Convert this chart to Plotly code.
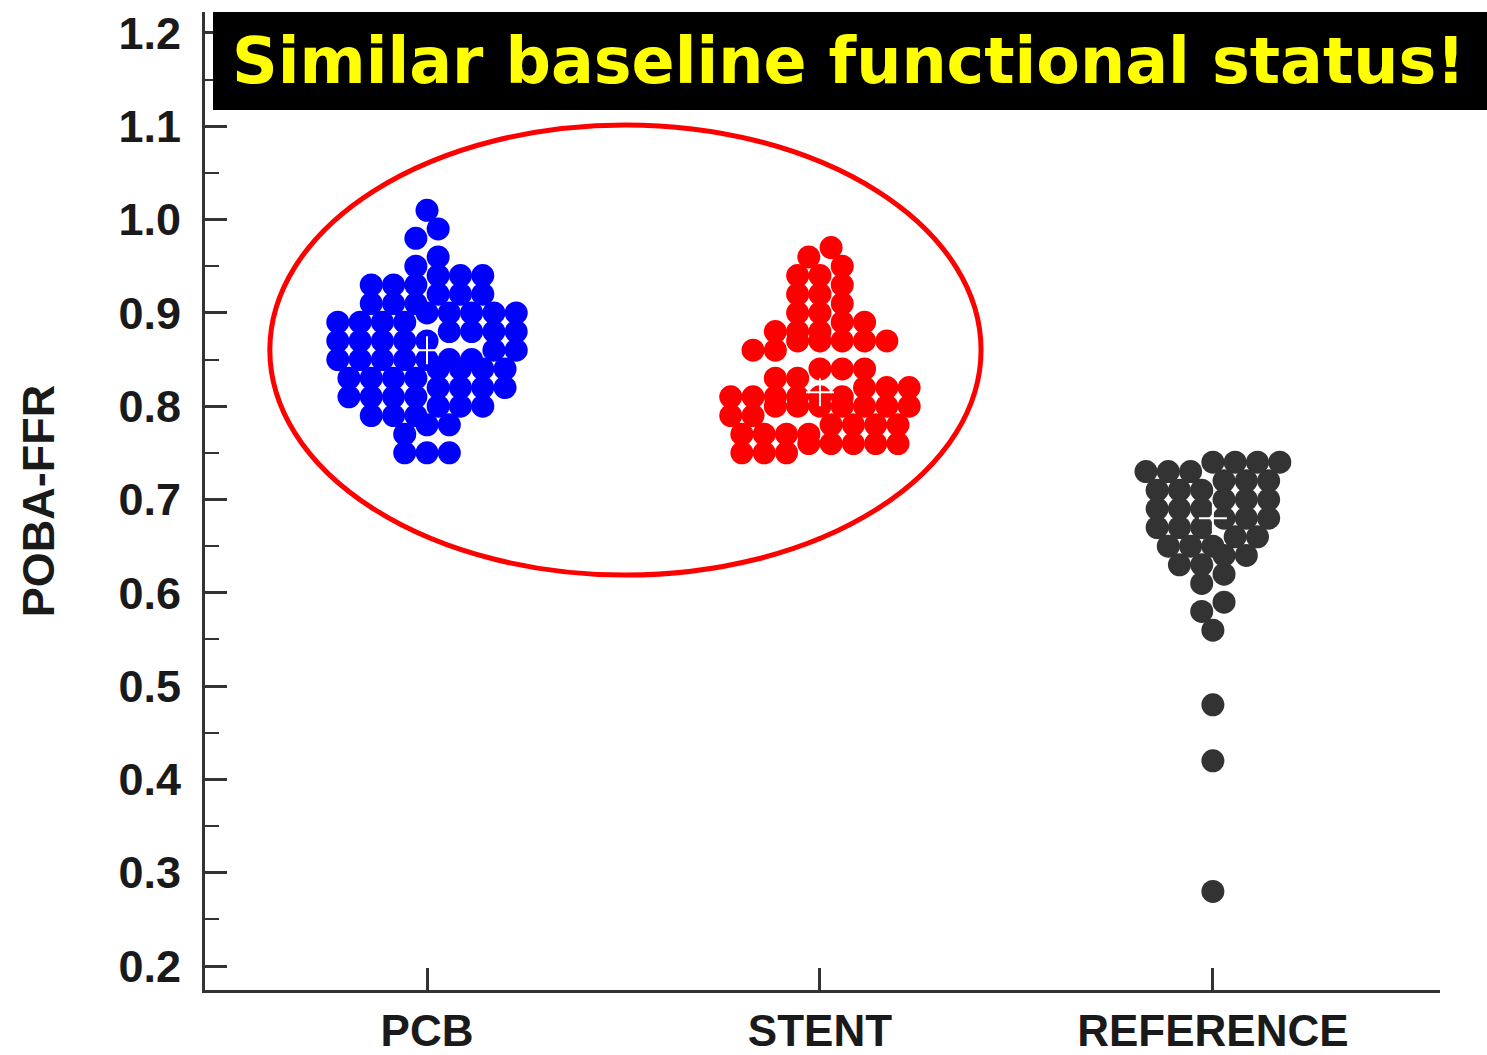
import numpy as np
import plotly.graph_objects as go

# ---------------- data ----------------
categories = ["PCB", "STENT", "REFERENCE"]

pcb_ffr = [0.75, 0.77, 0.78, 0.79, 0.80, 0.81, 0.82, 0.83, 0.84, 0.85, 0.86, 0.87, 0.88,
           0.89, 0.90, 0.91, 0.92, 0.93, 0.94, 0.95, 0.96, 0.98, 0.99, 1.01]
pcb_n = [3, 1, 2, 3, 3, 4, 4, 4, 4, 7, 2, 5, 4,
         4, 5, 3, 3, 3, 3, 1, 1, 1, 1, 1]

stent_ffr = [0.75, 0.76, 0.77, 0.78, 0.79, 0.80, 0.81, 0.82, 0.83, 0.84, 0.86, 0.87,
             0.88, 0.89, 0.90, 0.91, 0.92, 0.93, 0.94, 0.95, 0.96, 0.97]
stent_n = [3, 5, 4, 4, 2, 7, 6, 3, 2, 3, 2, 5,
           3, 2, 2, 1, 2, 1, 2, 1, 1, 1]

ref_ffr = [0.28, 0.42, 0.48, 0.56, 0.58, 0.59, 0.61, 0.62, 0.63, 0.64, 0.65, 0.66,
           0.67, 0.68, 0.69, 0.70, 0.71, 0.72, 0.73, 0.74]
ref_n = [1, 1, 1, 1, 1, 1, 1, 1, 2, 2, 3, 2,
         3, 3, 3, 3, 3, 3, 3, 4]

y_ticks = [0.2, 0.3, 0.4, 0.5, 0.6, 0.7, 0.8, 0.9, 1.0, 1.1, 1.2]
y_title = "POBA-FFR"
headline = "Similar baseline functional status!"

# ---------------- styling / geometry ----------------
W, H = 1487, 1055
ML, MR, MT, MB = 205, 47, 12, 65
XMIN, XMAX = -0.565, 2.578
YMIN, YMAX = 0.1743, 1.2225
DOT_PX = 23
STEP_PX = 22.3
BIN_W = 0.02
colors = ["#0000FF", "#FF0000", "#333333"]
AXIS_COL = "#333333"
TXT_COL = "#1a1a1a"
FONT = "Liberation Sans, Arial, sans-serif"

plot_w = W - ML - MR
plot_h = H - MT - MB
px_per_unit = plot_w / (XMAX - XMIN)
dx = STEP_PX / px_per_unit


def dot_layout(vals):
    v = np.sort(np.asarray(vals, dtype=float))
    off = np.empty_like(v)
    i = 0
    while i < len(v):
        j = i
        while j < len(v) and v[j] < v[i] + BIN_W - 1e-9:
            j += 1
        n = j - i
        off[i:j] = np.arange(n) - (n - 1) / 2.0
        i = j
    return v, off * dx


groups = [
    np.repeat(pcb_ffr, pcb_n),
    np.repeat(stent_ffr, stent_n),
    np.repeat(ref_ffr, ref_n),
]

fig = go.Figure()
for k, vals in enumerate(groups):
    yv, xo = dot_layout(vals)
    fig.add_trace(go.Scatter(
        x=k + xo, y=yv, mode="markers",
        marker=dict(size=DOT_PX, color=colors[k], line=dict(width=0)),
        showlegend=False, hoverinfo="y",
    ))

# median markers
fig.add_trace(go.Scatter(
    x=list(range(len(groups))), y=[float(np.median(g)) for g in groups],
    mode="markers",
    marker=dict(symbol="cross-thin", size=20, line=dict(color="white", width=2)),
    showlegend=False, hoverinfo="skip",
))

# red ellipse around PCB and STENT groups
both = np.concatenate([groups[0], groups[1]])
fig.add_shape(type="circle", xref="x", yref="y",
              x0=0 - 0.40, x1=1 + 0.41,
              y0=both.min() - 0.131, y1=both.max() + 0.0915,
              line=dict(color="#FF0000", width=5), layer="above")

# headline box
fig.add_shape(type="rect", xref="paper", yref="paper",
              x0=(213 - ML) / plot_w, x1=(W - ML) / plot_w,
              y0=(H - MB - 110) / plot_h, y1=(H - MB - 12) / plot_h,
              fillcolor="black", line=dict(width=0), layer="above")
fig.add_annotation(xref="paper", yref="paper",
                   x=(848 - ML) / plot_w, y=(H - MB - 61) / plot_h,
                   xanchor="center", yanchor="middle", showarrow=False,
                   text=headline,
                   font=dict(family="DejaVu Sans, Verdana, sans-serif", size=63.5,
                             color="#FFFF00", weight="bold"))

fig.update_layout(
    width=W, height=H,
    margin=dict(l=ML, r=MR, t=MT, b=MB, autoexpand=False),
    paper_bgcolor="white", plot_bgcolor="white",
    xaxis=dict(
        range=[XMIN, XMAX], showgrid=False, zeroline=False, automargin=False,
        showline=True, linecolor=AXIS_COL, linewidth=3,
        tickmode="array", tickvals=[0, 1, 2], ticktext=categories,
        ticks="inside", ticklen=22, tickwidth=2.5, tickcolor=AXIS_COL,
        tickfont=dict(family=FONT, size=44, color=TXT_COL, weight="bold"),
        ticklabelstandoff=0,
    ),
    yaxis=dict(
        range=[YMIN, YMAX], showgrid=False, zeroline=False, automargin=False,
        showline=True, linecolor=AXIS_COL, linewidth=3,
        tickmode="array", tickvals=y_ticks, ticktext=[f"{t:.1f}" for t in y_ticks],
        ticks="inside", ticklen=22, tickwidth=2.5, tickcolor=AXIS_COL,
        minor=dict(ticks="inside", ticklen=14, tickwidth=2, tickcolor=AXIS_COL,
                   tickmode="array",
                   tickvals=[round(t + 0.05, 2) for t in y_ticks]),
        tickfont=dict(family=FONT, size=45, color=TXT_COL, weight="bold"),
        ticklabelstandoff=12,
        title=dict(text=y_title, standoff=50,
                   font=dict(family=FONT, size=45, color=TXT_COL, weight="bold")),
    ),
)

fig.write_html("out.html")
